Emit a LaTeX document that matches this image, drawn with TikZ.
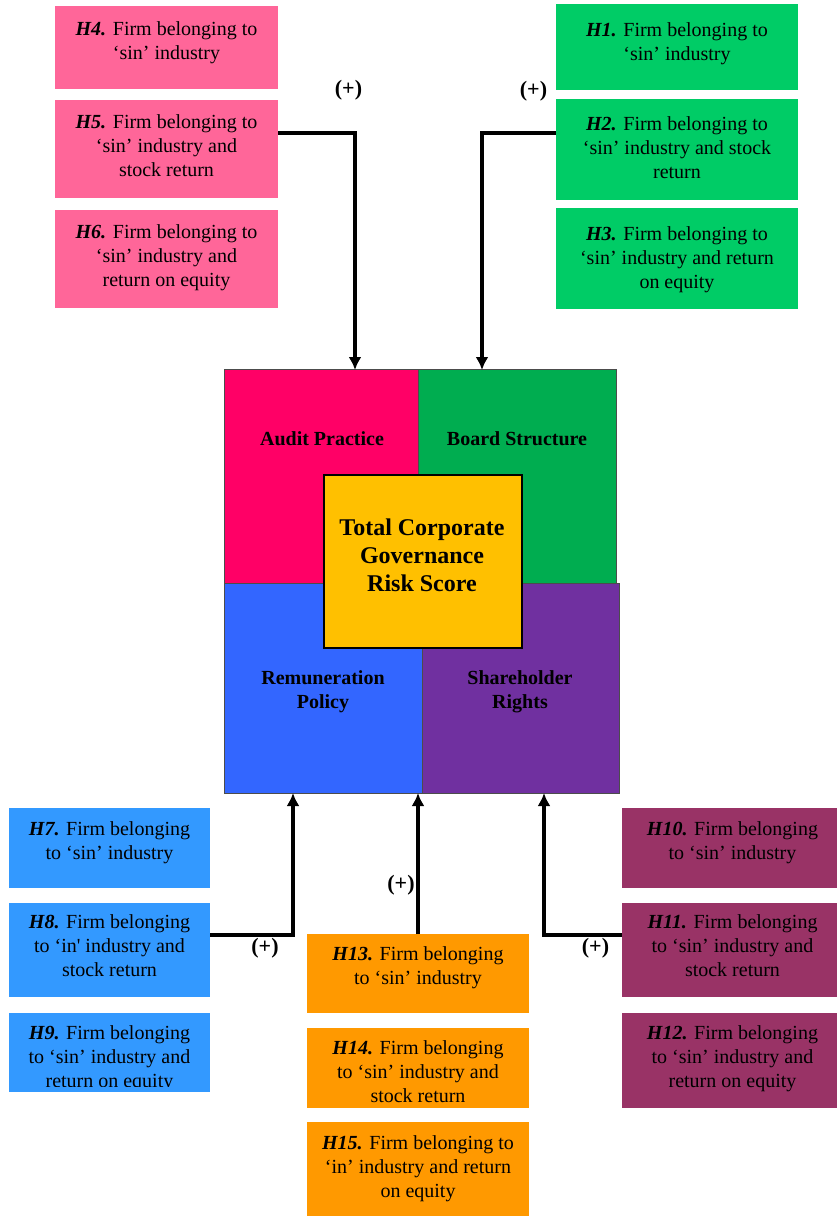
\documentclass[tikz,border=0pt]{standalone}
\usepackage{fontspec}
\setmainfont{Liberation Serif}
\usetikzlibrary{arrows.meta}

\definecolor{pinkhyp}{HTML}{FF6699}
\definecolor{greenhyp}{HTML}{00CC66}
\definecolor{bluehyp}{HTML}{3399FF}
\definecolor{plumhyp}{HTML}{993366}
\definecolor{orangehyp}{HTML}{FF9900}
\definecolor{auditred}{HTML}{FF0066}
\definecolor{boardgreen}{HTML}{00AD50}
\definecolor{remunblue}{HTML}{3366FF}
\definecolor{sharepurple}{HTML}{7030A0}
\definecolor{totalgold}{HTML}{FFC000}

\begin{document}
\begin{tikzpicture}[x=1pt,y=-1pt,
  hypbox/.style={anchor=north west,inner sep=0,outer sep=0},
  hyptext/.style={anchor=north,inner sep=0,align=center,font=\fontsize{20}{24}\selectfont},
  quad/.style={draw=black!70,line width=0.8pt,anchor=north west,inner sep=0,outer sep=0},
  quadtext/.style={inner sep=0,align=center,font=\fontsize{20}{24}\selectfont\bfseries},
  link/.style={line width=3.8pt,-{Latex[length=13pt,width=13pt]}},
  plus/.style={inner sep=0,font=\fontsize{22}{26}\selectfont\bfseries}]
\useasboundingbox (0,0) rectangle (837,1216);

% hypotheses on audit practice
\node[hypbox,fill=pinkhyp,minimum width=223pt,minimum height=83pt] (h4) at (55,6) {};
\node[hypbox,fill=pinkhyp,minimum width=223pt,minimum height=98pt] (h5) at (55,100) {};
\node[hypbox,fill=pinkhyp,minimum width=223pt,minimum height=98pt] (h6) at (55,210) {};
\node[hyptext] (h4t) at (166.5,21) {\textbf{\textit{H4.}} Firm belonging to\\‘sin’ industry};
\node[hyptext] (h5t) at (166.5,114) {\textbf{\textit{H5.}} Firm belonging to\\‘sin’ industry and\\stock return};
\node[hyptext] (h6t) at (166.5,224) {\textbf{\textit{H6.}} Firm belonging to\\‘sin’ industry and\\return on equity};

% hypotheses on board structure
\node[hypbox,fill=greenhyp,minimum width=242pt,minimum height=86pt] (h1) at (556,4) {};
\node[hypbox,fill=greenhyp,minimum width=242pt,minimum height=101pt] (h2) at (556,99) {};
\node[hypbox,fill=greenhyp,minimum width=242pt,minimum height=101pt] (h3) at (556,208) {};
\node[hyptext] (h1t) at (677,22) {\textbf{\textit{H1.}} Firm belonging to\\‘sin’ industry};
\node[hyptext] (h2t) at (677,116) {\textbf{\textit{H2.}} Firm belonging to\\‘sin’ industry and stock\\return};
\node[hyptext] (h3t) at (677,226) {\textbf{\textit{H3.}} Firm belonging to\\‘sin’ industry and return\\on equity};

% the four governance areas and the total score
\node[quad,fill=auditred,minimum width=194pt,minimum height=214pt] (audit) at (224,369) {};
\node[quad,fill=boardgreen,minimum width=198pt,minimum height=214pt] (board) at (418,369) {};
\node[quad,fill=remunblue,minimum width=198pt,minimum height=210pt] (remun) at (224,583) {};
\node[quad,fill=sharepurple,minimum width=197pt,minimum height=210pt] (share) at (422,583) {};
\node[draw=black,line width=1.3pt,fill=totalgold,anchor=north west,inner sep=0,outer sep=0,
  minimum width=198pt,minimum height=173pt] (total) at (324,475) {};
\node[quadtext,anchor=base] (auditl) at (322,445) {Audit Practice};
\node[quadtext,anchor=base] (boardl) at (517,445) {Board Structure};
\node[quadtext,anchor=north] (remunl) at (323,670) {Remuneration\\Policy};
\node[quadtext,anchor=north] (sharel) at (520,670) {Shareholder\\Rights};
\node[quadtext,anchor=north,font=\fontsize{24}{28}\selectfont\bfseries] (totall) at (422,519)
  {Total Corporate\\Governance\\Risk Score};

% hypotheses on remuneration policy
\node[hypbox,fill=bluehyp,minimum width=201pt,minimum height=80pt] (h7) at (9,808) {};
\node[hypbox,fill=bluehyp,minimum width=201pt,minimum height=94pt] (h8) at (9,903) {};
\node[hypbox,fill=bluehyp,minimum width=201pt,minimum height=79pt] (h9) at (9,1013) {};
\node[hyptext] (h7t) at (109.5,821) {\textbf{\textit{H7.}} Firm belonging\\to ‘sin’ industry};
\node[hyptext] (h8t) at (109.5,914) {\textbf{\textit{H8.}} Firm belonging\\to ‘in\textquotesingle\ industry and\\stock return};
\begin{scope}
\clip (h9.north west) rectangle ([yshift=6pt]h9.south east);
\node[hyptext] (h9t) at (109.5,1025) {\textbf{\textit{H9.}} Firm belonging\\to ‘sin’ industry and\\return on equity};
\end{scope}

% hypotheses on shareholder rights
\node[hypbox,fill=plumhyp,minimum width=221pt,minimum height=80pt] (h10) at (622,808) {};
\node[hypbox,fill=plumhyp,minimum width=221pt,minimum height=94pt] (h11) at (622,903) {};
\node[hypbox,fill=plumhyp,minimum width=221pt,minimum height=95pt] (h12) at (622,1013) {};
\node[hyptext] (h10t) at (732.5,821) {\textbf{\textit{H10.}} Firm belonging\\to ‘sin’ industry};
\node[hyptext] (h11t) at (732.5,914) {\textbf{\textit{H11.}} Firm belonging\\to ‘sin’ industry and\\stock return};
\node[hyptext] (h12t) at (732.5,1025) {\textbf{\textit{H12.}} Firm belonging\\to ‘sin’ industry and\\return on equity};

% hypotheses on the total score
\node[hypbox,fill=orangehyp,minimum width=222pt,minimum height=79pt] (h13) at (307,934) {};
\node[hypbox,fill=orangehyp,minimum width=222pt,minimum height=80pt] (h14) at (307,1028) {};
\node[hypbox,fill=orangehyp,minimum width=222pt,minimum height=94pt] (h15) at (307,1122) {};
\node[hyptext] (h13t) at (418,946) {\textbf{\textit{H13.}} Firm belonging\\to ‘sin’ industry};
\begin{scope}
\clip (h14.north west) rectangle ([yshift=6pt]h14.south east);
\node[hyptext] (h14t) at (418,1040) {\textbf{\textit{H14.}} Firm belonging\\to ‘sin’ industry and\\stock return};
\end{scope}
\node[hyptext] (h15t) at (418,1135) {\textbf{\textit{H15.}} Firm belonging to\\‘in’ industry and return\\on equity};

% arrows into the score
\coordinate (audin) at (355,370);
\coordinate (boardin) at (482,370);
\coordinate (remin) at (293,793);
\coordinate (sharein) at (544,793);
\draw[link] ([yshift=16pt]h5.east) -| (audin);
\draw[link] ([yshift=16.5pt]h2.west) -| (boardin);
\draw[link] ([yshift=15pt]h8.east) -| (remin);
\draw[link] ([yshift=15pt]h11.west) -| (sharein);
\draw[link] (h13.north) -- (h13.north |- share.south);

\node[plus] (plusa) at (348.5,90) {(+)};
\node[plus] (plusb) at (533.5,91) {(+)};
\node[plus] (plusr) at (265,948) {(+)};
\node[plus] (pluss) at (595.5,948) {(+)};
\node[plus] (plust) at (401,885) {(+)};
\end{tikzpicture}
\end{document}
